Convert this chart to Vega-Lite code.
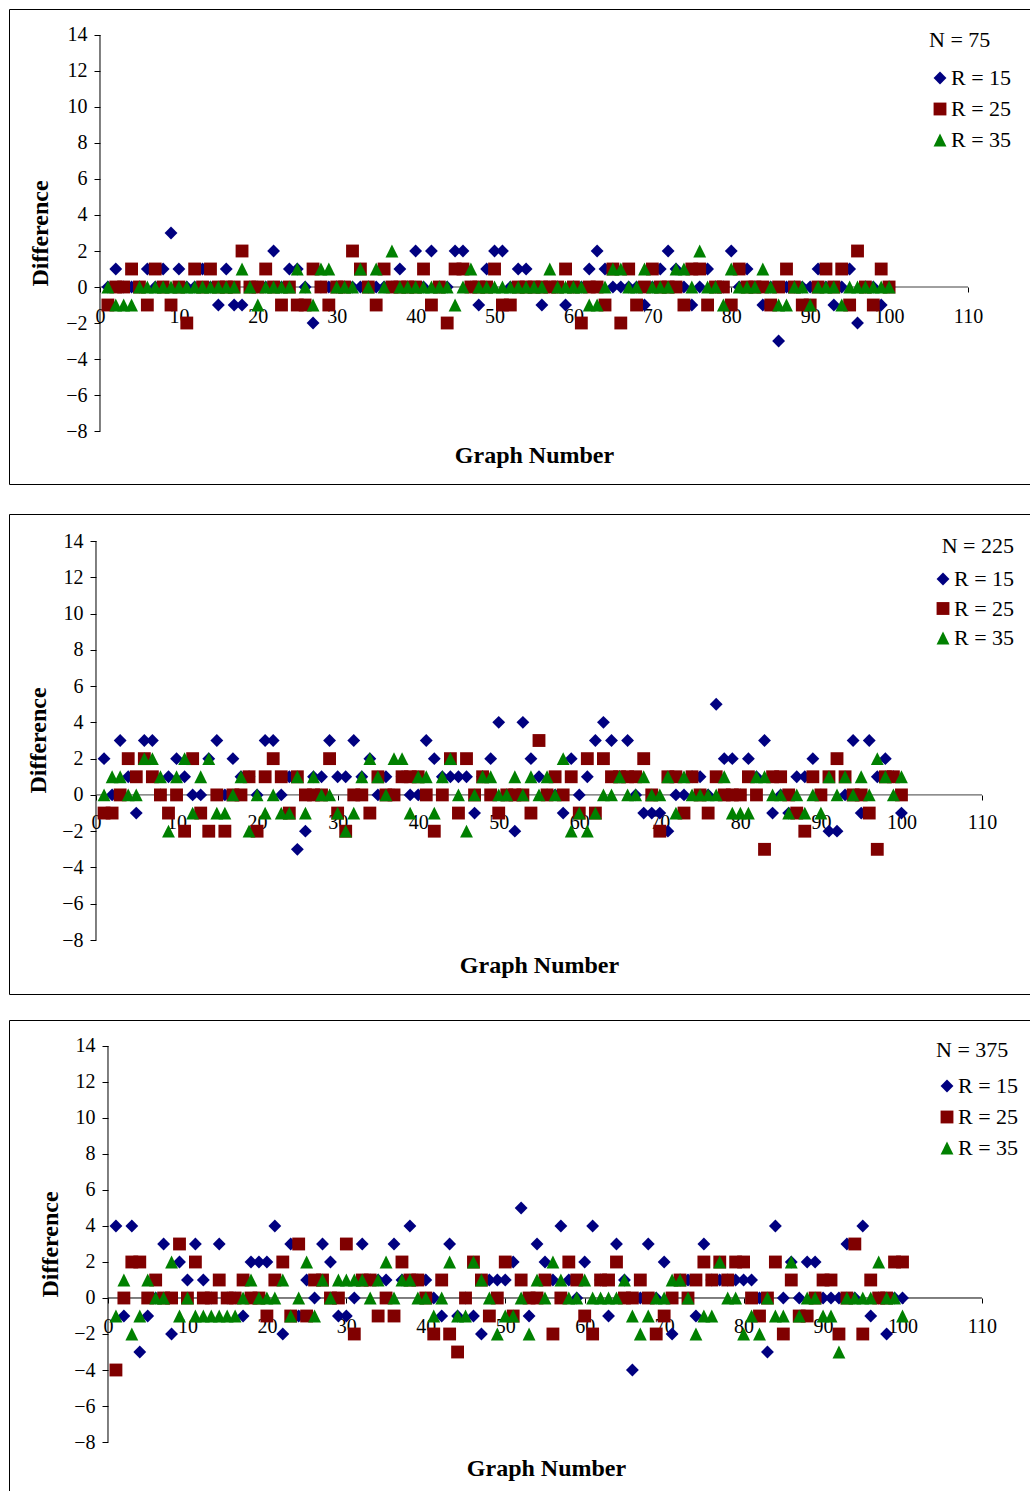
{
"$schema": "https://vega.github.io/schema/vega-lite/v6.json",
"padding": {"left": 8, "top": 8, "right": 0, "bottom": 0},
"background": "white",
"config": {
  "view": {"stroke": "black", "strokeWidth": 1},
  "font": "Liberation Serif",
  "axis": {"labelFont": "Liberation Serif", "labelFontSize": 20, "labelColor": "black", "titleFont": "Liberation Serif", "titleFontSize": 24, "titleFontWeight": "bold", "titleColor": "black", "grid": false, "domain": false, "tickColor": "black", "labelFlush": false, "labelOverlap": false},
  "legend": {"titleFont": "Liberation Serif", "titleFontSize": 22, "titleFontWeight": "normal", "titleColor": "black", "labelFont": "Liberation Serif", "labelFontSize": 22, "labelColor": "black", "symbolSize": 165, "symbolStrokeWidth": 0, "rowPadding": 9, "titlePadding": 15, "labelOffset": 0, "padding": 0}
},
"datasets": {
"p75": [
{"r":15,"g":1,"d":0},{"r":15,"g":2,"d":1},{"r":15,"g":3,"d":0},{"r":15,"g":4,"d":0},{"r":15,"g":5,"d":0},{"r":15,"g":6,"d":1},{"r":15,"g":7,"d":0},{"r":15,"g":8,"d":1},{"r":15,"g":9,"d":3},{"r":15,"g":10,"d":1},
{"r":15,"g":11,"d":0},{"r":15,"g":12,"d":0},{"r":15,"g":13,"d":1},{"r":15,"g":14,"d":0},{"r":15,"g":15,"d":-1},{"r":15,"g":16,"d":1},{"r":15,"g":17,"d":-1},{"r":15,"g":18,"d":-1},{"r":15,"g":19,"d":0},{"r":15,"g":20,"d":0},
{"r":15,"g":21,"d":0},{"r":15,"g":22,"d":2},{"r":15,"g":23,"d":0},{"r":15,"g":24,"d":1},{"r":15,"g":25,"d":1},{"r":15,"g":26,"d":0},{"r":15,"g":27,"d":-2},{"r":15,"g":28,"d":0},{"r":15,"g":29,"d":0},{"r":15,"g":30,"d":0},
{"r":15,"g":31,"d":0},{"r":15,"g":32,"d":0},{"r":15,"g":33,"d":0},{"r":15,"g":34,"d":0},{"r":15,"g":35,"d":0},{"r":15,"g":36,"d":0},{"r":15,"g":37,"d":0},{"r":15,"g":38,"d":1},{"r":15,"g":39,"d":0},{"r":15,"g":40,"d":2},
{"r":15,"g":41,"d":0},{"r":15,"g":42,"d":2},{"r":15,"g":43,"d":0},{"r":15,"g":44,"d":0},{"r":15,"g":45,"d":2},{"r":15,"g":46,"d":2},{"r":15,"g":47,"d":0},{"r":15,"g":48,"d":-1},{"r":15,"g":49,"d":1},{"r":15,"g":50,"d":2},
{"r":15,"g":51,"d":2},{"r":15,"g":52,"d":0},{"r":15,"g":53,"d":1},{"r":15,"g":54,"d":1},{"r":15,"g":55,"d":0},{"r":15,"g":56,"d":-1},{"r":15,"g":57,"d":0},{"r":15,"g":58,"d":0},{"r":15,"g":59,"d":-1},{"r":15,"g":60,"d":0},
{"r":15,"g":61,"d":0},{"r":15,"g":62,"d":1},{"r":15,"g":63,"d":2},{"r":15,"g":64,"d":1},{"r":15,"g":65,"d":0},{"r":15,"g":66,"d":0},{"r":15,"g":67,"d":0},{"r":15,"g":68,"d":0},{"r":15,"g":69,"d":-1},{"r":15,"g":70,"d":0},
{"r":15,"g":71,"d":1},{"r":15,"g":72,"d":2},{"r":15,"g":73,"d":1},{"r":15,"g":74,"d":0},{"r":15,"g":75,"d":-1},{"r":15,"g":76,"d":0},{"r":15,"g":77,"d":1},{"r":15,"g":78,"d":0},{"r":15,"g":79,"d":0},{"r":15,"g":80,"d":2},
{"r":15,"g":81,"d":0},{"r":15,"g":82,"d":1},{"r":15,"g":83,"d":0},{"r":15,"g":84,"d":-1},{"r":15,"g":85,"d":0},{"r":15,"g":86,"d":-3},{"r":15,"g":87,"d":0},{"r":15,"g":88,"d":0},{"r":15,"g":89,"d":0},{"r":15,"g":90,"d":0},
{"r":15,"g":91,"d":1},{"r":15,"g":92,"d":0},{"r":15,"g":93,"d":-1},{"r":15,"g":94,"d":0},{"r":15,"g":95,"d":1},{"r":15,"g":96,"d":-2},{"r":15,"g":97,"d":0},{"r":15,"g":98,"d":0},{"r":15,"g":99,"d":-1},{"r":15,"g":100,"d":0},
{"r":25,"g":1,"d":-1},{"r":25,"g":2,"d":0},{"r":25,"g":3,"d":0},{"r":25,"g":4,"d":1},{"r":25,"g":5,"d":0},{"r":25,"g":6,"d":-1},{"r":25,"g":7,"d":1},{"r":25,"g":8,"d":0},{"r":25,"g":9,"d":-1},{"r":25,"g":10,"d":0},
{"r":25,"g":11,"d":-2},{"r":25,"g":12,"d":1},{"r":25,"g":13,"d":0},{"r":25,"g":14,"d":1},{"r":25,"g":15,"d":0},{"r":25,"g":16,"d":0},{"r":25,"g":17,"d":0},{"r":25,"g":18,"d":2},{"r":25,"g":19,"d":0},{"r":25,"g":20,"d":0},
{"r":25,"g":21,"d":1},{"r":25,"g":22,"d":0},{"r":25,"g":23,"d":-1},{"r":25,"g":24,"d":0},{"r":25,"g":25,"d":-1},{"r":25,"g":26,"d":-1},{"r":25,"g":27,"d":1},{"r":25,"g":28,"d":0},{"r":25,"g":29,"d":-1},{"r":25,"g":30,"d":0},
{"r":25,"g":31,"d":0},{"r":25,"g":32,"d":2},{"r":25,"g":33,"d":1},{"r":25,"g":34,"d":0},{"r":25,"g":35,"d":-1},{"r":25,"g":36,"d":1},{"r":25,"g":37,"d":0},{"r":25,"g":38,"d":0},{"r":25,"g":39,"d":0},{"r":25,"g":40,"d":0},
{"r":25,"g":41,"d":1},{"r":25,"g":42,"d":-1},{"r":25,"g":43,"d":0},{"r":25,"g":44,"d":-2},{"r":25,"g":45,"d":1},{"r":25,"g":46,"d":1},{"r":25,"g":47,"d":0},{"r":25,"g":48,"d":0},{"r":25,"g":49,"d":0},{"r":25,"g":50,"d":1},
{"r":25,"g":51,"d":-1},{"r":25,"g":52,"d":-1},{"r":25,"g":53,"d":0},{"r":25,"g":54,"d":0},{"r":25,"g":55,"d":0},{"r":25,"g":56,"d":0},{"r":25,"g":57,"d":0},{"r":25,"g":58,"d":0},{"r":25,"g":59,"d":1},{"r":25,"g":60,"d":0},
{"r":25,"g":61,"d":-2},{"r":25,"g":62,"d":0},{"r":25,"g":63,"d":0},{"r":25,"g":64,"d":-1},{"r":25,"g":65,"d":1},{"r":25,"g":66,"d":-2},{"r":25,"g":67,"d":1},{"r":25,"g":68,"d":-1},{"r":25,"g":69,"d":0},{"r":25,"g":70,"d":1},
{"r":25,"g":71,"d":0},{"r":25,"g":72,"d":0},{"r":25,"g":73,"d":0},{"r":25,"g":74,"d":-1},{"r":25,"g":75,"d":1},{"r":25,"g":76,"d":1},{"r":25,"g":77,"d":-1},{"r":25,"g":78,"d":0},{"r":25,"g":79,"d":0},{"r":25,"g":80,"d":-1},
{"r":25,"g":81,"d":1},{"r":25,"g":82,"d":0},{"r":25,"g":83,"d":0},{"r":25,"g":84,"d":0},{"r":25,"g":85,"d":-1},{"r":25,"g":86,"d":0},{"r":25,"g":87,"d":1},{"r":25,"g":88,"d":0},{"r":25,"g":89,"d":-1},{"r":25,"g":90,"d":-1},
{"r":25,"g":91,"d":0},{"r":25,"g":92,"d":1},{"r":25,"g":93,"d":0},{"r":25,"g":94,"d":1},{"r":25,"g":95,"d":-1},{"r":25,"g":96,"d":2},{"r":25,"g":97,"d":0},{"r":25,"g":98,"d":-1},{"r":25,"g":99,"d":1},{"r":25,"g":100,"d":0},
{"r":35,"g":1,"d":0},{"r":35,"g":2,"d":-1},{"r":35,"g":3,"d":-1},{"r":35,"g":4,"d":-1},{"r":35,"g":5,"d":0},{"r":35,"g":6,"d":0},{"r":35,"g":7,"d":0},{"r":35,"g":8,"d":0},{"r":35,"g":9,"d":0},{"r":35,"g":10,"d":0},
{"r":35,"g":11,"d":0},{"r":35,"g":12,"d":0},{"r":35,"g":13,"d":0},{"r":35,"g":14,"d":0},{"r":35,"g":15,"d":0},{"r":35,"g":16,"d":0},{"r":35,"g":17,"d":0},{"r":35,"g":18,"d":1},{"r":35,"g":19,"d":0},{"r":35,"g":20,"d":-1},
{"r":35,"g":21,"d":0},{"r":35,"g":22,"d":0},{"r":35,"g":23,"d":0},{"r":35,"g":24,"d":0},{"r":35,"g":25,"d":1},{"r":35,"g":26,"d":0},{"r":35,"g":27,"d":-1},{"r":35,"g":28,"d":1},{"r":35,"g":29,"d":1},{"r":35,"g":30,"d":0},
{"r":35,"g":31,"d":0},{"r":35,"g":32,"d":0},{"r":35,"g":33,"d":1},{"r":35,"g":34,"d":0},{"r":35,"g":35,"d":1},{"r":35,"g":36,"d":0},{"r":35,"g":37,"d":2},{"r":35,"g":38,"d":0},{"r":35,"g":39,"d":0},{"r":35,"g":40,"d":0},
{"r":35,"g":41,"d":0},{"r":35,"g":42,"d":0},{"r":35,"g":43,"d":0},{"r":35,"g":44,"d":0},{"r":35,"g":45,"d":-1},{"r":35,"g":46,"d":0},{"r":35,"g":47,"d":1},{"r":35,"g":48,"d":0},{"r":35,"g":49,"d":0},{"r":35,"g":50,"d":0},
{"r":35,"g":51,"d":0},{"r":35,"g":52,"d":0},{"r":35,"g":53,"d":0},{"r":35,"g":54,"d":0},{"r":35,"g":55,"d":0},{"r":35,"g":56,"d":0},{"r":35,"g":57,"d":1},{"r":35,"g":58,"d":0},{"r":35,"g":59,"d":0},{"r":35,"g":60,"d":0},
{"r":35,"g":61,"d":0},{"r":35,"g":62,"d":-1},{"r":35,"g":63,"d":-1},{"r":35,"g":64,"d":0},{"r":35,"g":65,"d":1},{"r":35,"g":66,"d":1},{"r":35,"g":67,"d":0},{"r":35,"g":68,"d":0},{"r":35,"g":69,"d":1},{"r":35,"g":70,"d":0},
{"r":35,"g":71,"d":0},{"r":35,"g":72,"d":0},{"r":35,"g":73,"d":1},{"r":35,"g":74,"d":1},{"r":35,"g":75,"d":0},{"r":35,"g":76,"d":2},{"r":35,"g":77,"d":0},{"r":35,"g":78,"d":0},{"r":35,"g":79,"d":-1},{"r":35,"g":80,"d":1},
{"r":35,"g":81,"d":0},{"r":35,"g":82,"d":0},{"r":35,"g":83,"d":0},{"r":35,"g":84,"d":1},{"r":35,"g":85,"d":0},{"r":35,"g":86,"d":-1},{"r":35,"g":87,"d":-1},{"r":35,"g":88,"d":0},{"r":35,"g":89,"d":0},{"r":35,"g":90,"d":-1},
{"r":35,"g":91,"d":0},{"r":35,"g":92,"d":0},{"r":35,"g":93,"d":0},{"r":35,"g":94,"d":-1},{"r":35,"g":95,"d":0},{"r":35,"g":96,"d":0},{"r":35,"g":97,"d":0},{"r":35,"g":98,"d":0},{"r":35,"g":99,"d":0},{"r":35,"g":100,"d":0}
],
"p225": [
{"r":15,"g":1,"d":2},{"r":15,"g":2,"d":0},{"r":15,"g":3,"d":3},{"r":15,"g":4,"d":1},{"r":15,"g":5,"d":-1},{"r":15,"g":6,"d":3},{"r":15,"g":7,"d":3},{"r":15,"g":8,"d":0},{"r":15,"g":9,"d":1},{"r":15,"g":10,"d":2},
{"r":15,"g":11,"d":1},{"r":15,"g":12,"d":0},{"r":15,"g":13,"d":0},{"r":15,"g":14,"d":2},{"r":15,"g":15,"d":3},{"r":15,"g":16,"d":0},{"r":15,"g":17,"d":2},{"r":15,"g":18,"d":1},{"r":15,"g":19,"d":1},{"r":15,"g":20,"d":0},
{"r":15,"g":21,"d":3},{"r":15,"g":22,"d":3},{"r":15,"g":23,"d":0},{"r":15,"g":24,"d":1},{"r":15,"g":25,"d":-3},{"r":15,"g":26,"d":-2},{"r":15,"g":27,"d":1},{"r":15,"g":28,"d":1},{"r":15,"g":29,"d":3},{"r":15,"g":30,"d":1},
{"r":15,"g":31,"d":1},{"r":15,"g":32,"d":3},{"r":15,"g":33,"d":1},{"r":15,"g":34,"d":2},{"r":15,"g":35,"d":0},{"r":15,"g":36,"d":1},{"r":15,"g":37,"d":0},{"r":15,"g":38,"d":1},{"r":15,"g":39,"d":0},{"r":15,"g":40,"d":0},
{"r":15,"g":41,"d":3},{"r":15,"g":42,"d":2},{"r":15,"g":43,"d":1},{"r":15,"g":44,"d":1},{"r":15,"g":45,"d":1},{"r":15,"g":46,"d":1},{"r":15,"g":47,"d":-1},{"r":15,"g":48,"d":1},{"r":15,"g":49,"d":2},{"r":15,"g":50,"d":4},
{"r":15,"g":51,"d":0},{"r":15,"g":52,"d":-2},{"r":15,"g":53,"d":4},{"r":15,"g":54,"d":2},{"r":15,"g":55,"d":1},{"r":15,"g":56,"d":0},{"r":15,"g":57,"d":0},{"r":15,"g":58,"d":-1},{"r":15,"g":59,"d":2},{"r":15,"g":60,"d":0},
{"r":15,"g":61,"d":1},{"r":15,"g":62,"d":3},{"r":15,"g":63,"d":4},{"r":15,"g":64,"d":3},{"r":15,"g":65,"d":1},{"r":15,"g":66,"d":3},{"r":15,"g":67,"d":0},{"r":15,"g":68,"d":-1},{"r":15,"g":69,"d":-1},{"r":15,"g":70,"d":-1},
{"r":15,"g":71,"d":-2},{"r":15,"g":72,"d":0},{"r":15,"g":73,"d":0},{"r":15,"g":74,"d":1},{"r":15,"g":75,"d":1},{"r":15,"g":76,"d":0},{"r":15,"g":77,"d":5},{"r":15,"g":78,"d":2},{"r":15,"g":79,"d":2},{"r":15,"g":80,"d":0},
{"r":15,"g":81,"d":2},{"r":15,"g":82,"d":1},{"r":15,"g":83,"d":3},{"r":15,"g":84,"d":-1},{"r":15,"g":85,"d":0},{"r":15,"g":86,"d":-1},{"r":15,"g":87,"d":1},{"r":15,"g":88,"d":1},{"r":15,"g":89,"d":2},{"r":15,"g":90,"d":0},
{"r":15,"g":91,"d":-2},{"r":15,"g":92,"d":-2},{"r":15,"g":93,"d":0},{"r":15,"g":94,"d":3},{"r":15,"g":95,"d":-1},{"r":15,"g":96,"d":3},{"r":15,"g":97,"d":1},{"r":15,"g":98,"d":2},{"r":15,"g":99,"d":1},{"r":15,"g":100,"d":-1},
{"r":25,"g":1,"d":-1},{"r":25,"g":2,"d":-1},{"r":25,"g":3,"d":0},{"r":25,"g":4,"d":2},{"r":25,"g":5,"d":1},{"r":25,"g":6,"d":2},{"r":25,"g":7,"d":1},{"r":25,"g":8,"d":0},{"r":25,"g":9,"d":-1},{"r":25,"g":10,"d":0},
{"r":25,"g":11,"d":-2},{"r":25,"g":12,"d":2},{"r":25,"g":13,"d":-1},{"r":25,"g":14,"d":-2},{"r":25,"g":15,"d":0},{"r":25,"g":16,"d":-2},{"r":25,"g":17,"d":0},{"r":25,"g":18,"d":0},{"r":25,"g":19,"d":1},{"r":25,"g":20,"d":-2},
{"r":25,"g":21,"d":1},{"r":25,"g":22,"d":2},{"r":25,"g":23,"d":1},{"r":25,"g":24,"d":-1},{"r":25,"g":25,"d":1},{"r":25,"g":26,"d":0},{"r":25,"g":27,"d":0},{"r":25,"g":28,"d":0},{"r":25,"g":29,"d":2},{"r":25,"g":30,"d":-1},
{"r":25,"g":31,"d":-2},{"r":25,"g":32,"d":0},{"r":25,"g":33,"d":0},{"r":25,"g":34,"d":-1},{"r":25,"g":35,"d":1},{"r":25,"g":36,"d":0},{"r":25,"g":37,"d":0},{"r":25,"g":38,"d":1},{"r":25,"g":39,"d":1},{"r":25,"g":40,"d":1},
{"r":25,"g":41,"d":0},{"r":25,"g":42,"d":-2},{"r":25,"g":43,"d":0},{"r":25,"g":44,"d":2},{"r":25,"g":45,"d":-1},{"r":25,"g":46,"d":2},{"r":25,"g":47,"d":0},{"r":25,"g":48,"d":1},{"r":25,"g":49,"d":0},{"r":25,"g":50,"d":-1},
{"r":25,"g":51,"d":0},{"r":25,"g":52,"d":0},{"r":25,"g":53,"d":0},{"r":25,"g":54,"d":-1},{"r":25,"g":55,"d":3},{"r":25,"g":56,"d":0},{"r":25,"g":57,"d":1},{"r":25,"g":58,"d":0},{"r":25,"g":59,"d":1},{"r":25,"g":60,"d":-1},
{"r":25,"g":61,"d":2},{"r":25,"g":62,"d":-1},{"r":25,"g":63,"d":2},{"r":25,"g":64,"d":1},{"r":25,"g":65,"d":1},{"r":25,"g":66,"d":1},{"r":25,"g":67,"d":1},{"r":25,"g":68,"d":2},{"r":25,"g":69,"d":0},{"r":25,"g":70,"d":-2},
{"r":25,"g":71,"d":1},{"r":25,"g":72,"d":1},{"r":25,"g":73,"d":-1},{"r":25,"g":74,"d":1},{"r":25,"g":75,"d":0},{"r":25,"g":76,"d":-1},{"r":25,"g":77,"d":1},{"r":25,"g":78,"d":0},{"r":25,"g":79,"d":0},{"r":25,"g":80,"d":0},
{"r":25,"g":81,"d":1},{"r":25,"g":82,"d":0},{"r":25,"g":83,"d":-3},{"r":25,"g":84,"d":1},{"r":25,"g":85,"d":1},{"r":25,"g":86,"d":0},{"r":25,"g":87,"d":-1},{"r":25,"g":88,"d":-2},{"r":25,"g":89,"d":1},{"r":25,"g":90,"d":0},
{"r":25,"g":91,"d":1},{"r":25,"g":92,"d":2},{"r":25,"g":93,"d":1},{"r":25,"g":94,"d":0},{"r":25,"g":95,"d":0},{"r":25,"g":96,"d":-1},{"r":25,"g":97,"d":-3},{"r":25,"g":98,"d":1},{"r":25,"g":99,"d":1},{"r":25,"g":100,"d":0},
{"r":35,"g":1,"d":0},{"r":35,"g":2,"d":1},{"r":35,"g":3,"d":1},{"r":35,"g":4,"d":0},{"r":35,"g":5,"d":0},{"r":35,"g":6,"d":2},{"r":35,"g":7,"d":2},{"r":35,"g":8,"d":1},{"r":35,"g":9,"d":-2},{"r":35,"g":10,"d":1},
{"r":35,"g":11,"d":2},{"r":35,"g":12,"d":-1},{"r":35,"g":13,"d":1},{"r":35,"g":14,"d":2},{"r":35,"g":15,"d":-1},{"r":35,"g":16,"d":-1},{"r":35,"g":17,"d":0},{"r":35,"g":18,"d":1},{"r":35,"g":19,"d":-2},{"r":35,"g":20,"d":0},
{"r":35,"g":21,"d":-1},{"r":35,"g":22,"d":0},{"r":35,"g":23,"d":-1},{"r":35,"g":24,"d":-1},{"r":35,"g":25,"d":1},{"r":35,"g":26,"d":-1},{"r":35,"g":27,"d":1},{"r":35,"g":28,"d":0},{"r":35,"g":29,"d":0},{"r":35,"g":30,"d":-1},
{"r":35,"g":31,"d":-2},{"r":35,"g":32,"d":-1},{"r":35,"g":33,"d":1},{"r":35,"g":34,"d":2},{"r":35,"g":35,"d":1},{"r":35,"g":36,"d":0},{"r":35,"g":37,"d":2},{"r":35,"g":38,"d":2},{"r":35,"g":39,"d":-1},{"r":35,"g":40,"d":1},
{"r":35,"g":41,"d":1},{"r":35,"g":42,"d":-1},{"r":35,"g":43,"d":1},{"r":35,"g":44,"d":2},{"r":35,"g":45,"d":0},{"r":35,"g":46,"d":-2},{"r":35,"g":47,"d":0},{"r":35,"g":48,"d":1},{"r":35,"g":49,"d":1},{"r":35,"g":50,"d":0},
{"r":35,"g":51,"d":0},{"r":35,"g":52,"d":1},{"r":35,"g":53,"d":0},{"r":35,"g":54,"d":1},{"r":35,"g":55,"d":0},{"r":35,"g":56,"d":1},{"r":35,"g":57,"d":0},{"r":35,"g":58,"d":2},{"r":35,"g":59,"d":-2},{"r":35,"g":60,"d":-1},
{"r":35,"g":61,"d":-2},{"r":35,"g":62,"d":-1},{"r":35,"g":63,"d":0},{"r":35,"g":64,"d":0},{"r":35,"g":65,"d":1},{"r":35,"g":66,"d":0},{"r":35,"g":67,"d":0},{"r":35,"g":68,"d":1},{"r":35,"g":69,"d":0},{"r":35,"g":70,"d":0},
{"r":35,"g":71,"d":1},{"r":35,"g":72,"d":-1},{"r":35,"g":73,"d":1},{"r":35,"g":74,"d":0},{"r":35,"g":75,"d":0},{"r":35,"g":76,"d":0},{"r":35,"g":77,"d":0},{"r":35,"g":78,"d":1},{"r":35,"g":79,"d":-1},{"r":35,"g":80,"d":-1},
{"r":35,"g":81,"d":-1},{"r":35,"g":82,"d":1},{"r":35,"g":83,"d":1},{"r":35,"g":84,"d":0},{"r":35,"g":85,"d":0},{"r":35,"g":86,"d":-1},{"r":35,"g":87,"d":0},{"r":35,"g":88,"d":-1},{"r":35,"g":89,"d":0},{"r":35,"g":90,"d":-1},
{"r":35,"g":91,"d":1},{"r":35,"g":92,"d":0},{"r":35,"g":93,"d":1},{"r":35,"g":94,"d":0},{"r":35,"g":95,"d":1},{"r":35,"g":96,"d":0},{"r":35,"g":97,"d":2},{"r":35,"g":98,"d":1},{"r":35,"g":99,"d":0},{"r":35,"g":100,"d":1}
],
"p375": [
{"r":15,"g":1,"d":4},{"r":15,"g":2,"d":-1},{"r":15,"g":3,"d":4},{"r":15,"g":4,"d":-3},{"r":15,"g":5,"d":-1},{"r":15,"g":6,"d":0},{"r":15,"g":7,"d":3},{"r":15,"g":8,"d":-2},{"r":15,"g":9,"d":2},{"r":15,"g":10,"d":1},
{"r":15,"g":11,"d":3},{"r":15,"g":12,"d":1},{"r":15,"g":13,"d":0},{"r":15,"g":14,"d":3},{"r":15,"g":15,"d":0},{"r":15,"g":16,"d":0},{"r":15,"g":17,"d":-1},{"r":15,"g":18,"d":2},{"r":15,"g":19,"d":2},{"r":15,"g":20,"d":2},
{"r":15,"g":21,"d":4},{"r":15,"g":22,"d":-2},{"r":15,"g":23,"d":3},{"r":15,"g":24,"d":-1},{"r":15,"g":25,"d":1},{"r":15,"g":26,"d":0},{"r":15,"g":27,"d":3},{"r":15,"g":28,"d":2},{"r":15,"g":29,"d":-1},{"r":15,"g":30,"d":-1},
{"r":15,"g":31,"d":0},{"r":15,"g":32,"d":3},{"r":15,"g":33,"d":1},{"r":15,"g":34,"d":1},{"r":15,"g":35,"d":1},{"r":15,"g":36,"d":3},{"r":15,"g":37,"d":1},{"r":15,"g":38,"d":4},{"r":15,"g":39,"d":1},{"r":15,"g":40,"d":1},
{"r":15,"g":41,"d":0},{"r":15,"g":42,"d":-1},{"r":15,"g":43,"d":3},{"r":15,"g":44,"d":-1},{"r":15,"g":45,"d":0},{"r":15,"g":46,"d":-1},{"r":15,"g":47,"d":-2},{"r":15,"g":48,"d":1},{"r":15,"g":49,"d":1},{"r":15,"g":50,"d":1},
{"r":15,"g":51,"d":2},{"r":15,"g":52,"d":5},{"r":15,"g":53,"d":-1},{"r":15,"g":54,"d":3},{"r":15,"g":55,"d":2},{"r":15,"g":56,"d":1},{"r":15,"g":57,"d":4},{"r":15,"g":58,"d":1},{"r":15,"g":59,"d":0},{"r":15,"g":60,"d":2},
{"r":15,"g":61,"d":4},{"r":15,"g":62,"d":1},{"r":15,"g":63,"d":-1},{"r":15,"g":64,"d":3},{"r":15,"g":65,"d":1},{"r":15,"g":66,"d":-4},{"r":15,"g":67,"d":0},{"r":15,"g":68,"d":3},{"r":15,"g":69,"d":0},{"r":15,"g":70,"d":2},
{"r":15,"g":71,"d":-2},{"r":15,"g":72,"d":1},{"r":15,"g":73,"d":1},{"r":15,"g":74,"d":-1},{"r":15,"g":75,"d":3},{"r":15,"g":76,"d":1},{"r":15,"g":77,"d":1},{"r":15,"g":78,"d":1},{"r":15,"g":79,"d":1},{"r":15,"g":80,"d":1},
{"r":15,"g":81,"d":1},{"r":15,"g":82,"d":0},{"r":15,"g":83,"d":-3},{"r":15,"g":84,"d":4},{"r":15,"g":85,"d":0},{"r":15,"g":86,"d":2},{"r":15,"g":87,"d":0},{"r":15,"g":88,"d":2},{"r":15,"g":89,"d":2},{"r":15,"g":90,"d":0},
{"r":15,"g":91,"d":0},{"r":15,"g":92,"d":0},{"r":15,"g":93,"d":3},{"r":15,"g":94,"d":0},{"r":15,"g":95,"d":4},{"r":15,"g":96,"d":-1},{"r":15,"g":97,"d":0},{"r":15,"g":98,"d":-2},{"r":15,"g":99,"d":0},{"r":15,"g":100,"d":0},
{"r":25,"g":1,"d":-4},{"r":25,"g":2,"d":0},{"r":25,"g":3,"d":2},{"r":25,"g":4,"d":2},{"r":25,"g":5,"d":0},{"r":25,"g":6,"d":1},{"r":25,"g":7,"d":0},{"r":25,"g":8,"d":0},{"r":25,"g":9,"d":3},{"r":25,"g":10,"d":0},
{"r":25,"g":11,"d":2},{"r":25,"g":12,"d":0},{"r":25,"g":13,"d":0},{"r":25,"g":14,"d":1},{"r":25,"g":15,"d":0},{"r":25,"g":16,"d":0},{"r":25,"g":17,"d":1},{"r":25,"g":18,"d":0},{"r":25,"g":19,"d":0},{"r":25,"g":20,"d":-1},
{"r":25,"g":21,"d":1},{"r":25,"g":22,"d":2},{"r":25,"g":23,"d":-1},{"r":25,"g":24,"d":3},{"r":25,"g":25,"d":-1},{"r":25,"g":26,"d":1},{"r":25,"g":27,"d":1},{"r":25,"g":28,"d":0},{"r":25,"g":29,"d":0},{"r":25,"g":30,"d":3},
{"r":25,"g":31,"d":-2},{"r":25,"g":32,"d":1},{"r":25,"g":33,"d":1},{"r":25,"g":34,"d":-1},{"r":25,"g":35,"d":0},{"r":25,"g":36,"d":-1},{"r":25,"g":37,"d":2},{"r":25,"g":38,"d":1},{"r":25,"g":39,"d":1},{"r":25,"g":40,"d":0},
{"r":25,"g":41,"d":-2},{"r":25,"g":42,"d":1},{"r":25,"g":43,"d":-2},{"r":25,"g":44,"d":-3},{"r":25,"g":45,"d":0},{"r":25,"g":46,"d":2},{"r":25,"g":47,"d":1},{"r":25,"g":48,"d":-1},{"r":25,"g":49,"d":0},{"r":25,"g":50,"d":2},
{"r":25,"g":51,"d":-1},{"r":25,"g":52,"d":1},{"r":25,"g":53,"d":0},{"r":25,"g":54,"d":0},{"r":25,"g":55,"d":1},{"r":25,"g":56,"d":-2},{"r":25,"g":57,"d":0},{"r":25,"g":58,"d":2},{"r":25,"g":59,"d":1},{"r":25,"g":60,"d":-1},
{"r":25,"g":61,"d":-2},{"r":25,"g":62,"d":1},{"r":25,"g":63,"d":1},{"r":25,"g":64,"d":2},{"r":25,"g":65,"d":0},{"r":25,"g":66,"d":0},{"r":25,"g":67,"d":1},{"r":25,"g":68,"d":0},{"r":25,"g":69,"d":-2},{"r":25,"g":70,"d":-1},
{"r":25,"g":71,"d":0},{"r":25,"g":72,"d":1},{"r":25,"g":73,"d":0},{"r":25,"g":74,"d":1},{"r":25,"g":75,"d":2},{"r":25,"g":76,"d":1},{"r":25,"g":77,"d":2},{"r":25,"g":78,"d":1},{"r":25,"g":79,"d":2},{"r":25,"g":80,"d":2},
{"r":25,"g":81,"d":0},{"r":25,"g":82,"d":-1},{"r":25,"g":83,"d":0},{"r":25,"g":84,"d":2},{"r":25,"g":85,"d":-2},{"r":25,"g":86,"d":1},{"r":25,"g":87,"d":-1},{"r":25,"g":88,"d":-1},{"r":25,"g":89,"d":0},{"r":25,"g":90,"d":1},
{"r":25,"g":91,"d":1},{"r":25,"g":92,"d":-2},{"r":25,"g":93,"d":0},{"r":25,"g":94,"d":3},{"r":25,"g":95,"d":-2},{"r":25,"g":96,"d":1},{"r":25,"g":97,"d":0},{"r":25,"g":98,"d":0},{"r":25,"g":99,"d":2},{"r":25,"g":100,"d":2},
{"r":35,"g":1,"d":-1},{"r":35,"g":2,"d":1},{"r":35,"g":3,"d":-2},{"r":35,"g":4,"d":-1},{"r":35,"g":5,"d":1},{"r":35,"g":6,"d":0},{"r":35,"g":7,"d":0},{"r":35,"g":8,"d":2},{"r":35,"g":9,"d":-1},{"r":35,"g":10,"d":0},
{"r":35,"g":11,"d":-1},{"r":35,"g":12,"d":-1},{"r":35,"g":13,"d":-1},{"r":35,"g":14,"d":-1},{"r":35,"g":15,"d":-1},{"r":35,"g":16,"d":-1},{"r":35,"g":17,"d":0},{"r":35,"g":18,"d":1},{"r":35,"g":19,"d":0},{"r":35,"g":20,"d":0},
{"r":35,"g":21,"d":0},{"r":35,"g":22,"d":1},{"r":35,"g":23,"d":-1},{"r":35,"g":24,"d":0},{"r":35,"g":25,"d":2},{"r":35,"g":26,"d":-1},{"r":35,"g":27,"d":1},{"r":35,"g":28,"d":0},{"r":35,"g":29,"d":1},{"r":35,"g":30,"d":1},
{"r":35,"g":31,"d":1},{"r":35,"g":32,"d":1},{"r":35,"g":33,"d":0},{"r":35,"g":34,"d":1},{"r":35,"g":35,"d":2},{"r":35,"g":36,"d":0},{"r":35,"g":37,"d":1},{"r":35,"g":38,"d":1},{"r":35,"g":39,"d":0},{"r":35,"g":40,"d":0},
{"r":35,"g":41,"d":-1},{"r":35,"g":42,"d":0},{"r":35,"g":43,"d":2},{"r":35,"g":44,"d":-1},{"r":35,"g":45,"d":-1},{"r":35,"g":46,"d":2},{"r":35,"g":47,"d":1},{"r":35,"g":48,"d":0},{"r":35,"g":49,"d":-2},{"r":35,"g":50,"d":-1},
{"r":35,"g":51,"d":-1},{"r":35,"g":52,"d":0},{"r":35,"g":53,"d":-2},{"r":35,"g":54,"d":1},{"r":35,"g":55,"d":0},{"r":35,"g":56,"d":2},{"r":35,"g":57,"d":1},{"r":35,"g":58,"d":0},{"r":35,"g":59,"d":0},{"r":35,"g":60,"d":1},
{"r":35,"g":61,"d":0},{"r":35,"g":62,"d":0},{"r":35,"g":63,"d":0},{"r":35,"g":64,"d":0},{"r":35,"g":65,"d":1},{"r":35,"g":66,"d":-1},{"r":35,"g":67,"d":-2},{"r":35,"g":68,"d":-1},{"r":35,"g":69,"d":0},{"r":35,"g":70,"d":0},
{"r":35,"g":71,"d":1},{"r":35,"g":72,"d":1},{"r":35,"g":73,"d":0},{"r":35,"g":74,"d":-2},{"r":35,"g":75,"d":-1},{"r":35,"g":76,"d":-1},{"r":35,"g":77,"d":2},{"r":35,"g":78,"d":0},{"r":35,"g":79,"d":0},{"r":35,"g":80,"d":-2},
{"r":35,"g":81,"d":-1},{"r":35,"g":82,"d":-2},{"r":35,"g":83,"d":0},{"r":35,"g":84,"d":-1},{"r":35,"g":85,"d":-1},{"r":35,"g":86,"d":2},{"r":35,"g":87,"d":-1},{"r":35,"g":88,"d":0},{"r":35,"g":89,"d":0},{"r":35,"g":90,"d":-1},
{"r":35,"g":91,"d":-1},{"r":35,"g":92,"d":-3},{"r":35,"g":93,"d":0},{"r":35,"g":94,"d":0},{"r":35,"g":95,"d":0},{"r":35,"g":96,"d":0},{"r":35,"g":97,"d":2},{"r":35,"g":98,"d":0},{"r":35,"g":99,"d":0},{"r":35,"g":100,"d":-1}
]
},
"vconcat": [
{"vconcat": [
{
  "width": 1025, "height": 475,
  "layer": [
    {"data": {"values": [{}]}, "mark": {"type": "rule", "color": "black", "strokeWidth": 1},
     "encoding": {"x": {"datum": 0, "type": "quantitative"}, "y": {"datum": -8, "type": "quantitative"}, "y2": {"datum": 14}}},
    {"data": {"values": [{}]}, "mark": {"type": "rule", "color": "#404040", "strokeWidth": 1},
     "encoding": {"y": {"datum": 0, "type": "quantitative"}, "x": {"datum": 0, "type": "quantitative"}, "x2": {"datum": 110}}},
    {"data": {"name": "p75"}, "mark": {"type": "point", "filled": true, "size": 165, "opacity": 1},
     "encoding": {
       "x": {"field": "g", "type": "quantitative", "scale": {"domain": [-11.532, 118.365], "nice": false, "zero": false},
             "axis": {"values": [0,10,20,30,40,50,60,70,80,90,100,110], "offset": -197, "tickSize": 5, "labelPadding": 24, "labelBaseline": "middle", "title": "Graph Number", "titleX": 525, "titleY": 168, "titleBaseline": "middle", "titleAlign": "center"}},
       "y": {"field": "d", "type": "quantitative", "scale": {"domain": [-10.944, 15.444], "nice": false, "zero": false},
             "axis": {"values": [-8,-6,-4,-2,0,2,4,6,8,10,12,14], "offset": -91, "tickSize": 6, "labelPadding": 7, "title": "Difference", "titleX": -60, "titleY": 224, "titleBaseline": "middle", "titleAlign": "center", "titleAngle": -90}},
       "color": {"field": "r", "type": "nominal", "scale": {"domain": [15,25,35], "range": ["#000080","#800000","#008000"]},
                 "legend": {"title": "N = 75", "orient": "none", "legendX": 920, "legendY": 21, "titlePadding": 15, "rowPadding": 9, "labelExpr": "'R = ' + datum.label"}},
       "shape": {"field": "r", "type": "nominal", "scale": {"domain": [15,25,35], "range": ["diamond","square","M0,-1L1,1L-1,1Z"]},
                 "legend": {"title": "N = 75", "orient": "none", "legendX": 920, "legendY": 21, "titlePadding": 15, "rowPadding": 9, "labelExpr": "'R = ' + datum.label"}}
     }}
  ]
},
{
  "width": 1025, "height": 480,
  "layer": [
    {"data": {"values": [{}]}, "mark": {"type": "rule", "color": "black", "strokeWidth": 1},
     "encoding": {"x": {"datum": 0, "type": "quantitative"}, "y": {"datum": -8, "type": "quantitative"}, "y2": {"datum": 14}}},
    {"data": {"values": [{}]}, "mark": {"type": "rule", "color": "#404040", "strokeWidth": 1},
     "encoding": {"y": {"datum": 0, "type": "quantitative"}, "x": {"datum": 0, "type": "quantitative"}, "x2": {"datum": 110}}},
    {"data": {"name": "p225"}, "mark": {"type": "point", "filled": true, "size": 165, "opacity": 1},
     "encoding": {
       "x": {"field": "g", "type": "quantitative", "scale": {"domain": [-10.801, 116.456], "nice": false, "zero": false},
             "axis": {"values": [0,10,20,30,40,50,60,70,80,90,100,110], "offset": -199, "tickSize": 5, "labelPadding": 22, "labelBaseline": "middle", "title": "Graph Number", "titleX": 530, "titleY": 170, "titleBaseline": "middle", "titleAlign": "center"}},
       "y": {"field": "d", "type": "quantitative", "scale": {"domain": [-10.977, 15.489], "nice": false, "zero": false},
             "axis": {"values": [-8,-6,-4,-2,0,2,4,6,8,10,12,14], "offset": -87, "tickSize": 6, "labelPadding": 7, "title": "Difference", "titleX": -58, "titleY": 226, "titleBaseline": "middle", "titleAlign": "center", "titleAngle": -90}},
       "color": {"field": "r", "type": "nominal", "scale": {"domain": [15,25,35], "range": ["#000080","#800000","#008000"]},
                 "legend": {"title": "N = 225", "orient": "none", "legendX": 923, "legendY": 22, "titlePadding": 10, "rowPadding": 7.5, "titleAnchor": "end", "labelExpr": "'R = ' + datum.label"}},
       "shape": {"field": "r", "type": "nominal", "scale": {"domain": [15,25,35], "range": ["diamond","square","M0,-1L1,1L-1,1Z"]},
                 "legend": {"title": "N = 225", "orient": "none", "legendX": 923, "legendY": 22, "titlePadding": 10, "rowPadding": 7.5, "titleAnchor": "end", "labelExpr": "'R = ' + datum.label"}}
     }}
  ]
}
], "spacing": 28,
"resolve": {"scale": {"color": "independent", "shape": "independent"}, "legend": {"color": "independent", "shape": "independent"}}},
{
  "width": 1025, "height": 480,
  "layer": [
    {"data": {"values": [{}]}, "mark": {"type": "rule", "color": "black", "strokeWidth": 1},
     "encoding": {"x": {"datum": 0, "type": "quantitative"}, "y": {"datum": -8, "type": "quantitative"}, "y2": {"datum": 14}}},
    {"data": {"values": [{}]}, "mark": {"type": "rule", "color": "black", "strokeWidth": 1},
     "encoding": {"y": {"datum": 0, "type": "quantitative"}, "x": {"datum": 0, "type": "quantitative"}, "x2": {"datum": 110}}},
    {"data": {"name": "p375"}, "mark": {"type": "point", "filled": true, "size": 165, "opacity": 1},
     "encoding": {
       "x": {"field": "g", "type": "quantitative", "scale": {"domain": [-12.46, 116.55], "nice": false, "zero": false},
             "axis": {"values": [0,10,20,30,40,50,60,70,80,90,100,110], "offset": -202, "tickSize": 5, "labelPadding": 23, "labelBaseline": "middle", "title": "Graph Number", "titleX": 537, "titleY": 170, "titleBaseline": "middle", "titleAlign": "center"}},
       "y": {"field": "d", "type": "quantitative", "scale": {"domain": [-11.222, 15.444], "nice": false, "zero": false},
             "axis": {"values": [-8,-6,-4,-2,0,2,4,6,8,10,12,14], "offset": -99, "tickSize": 6, "labelPadding": 7, "title": "Difference", "titleX": -58, "titleY": 224, "titleBaseline": "middle", "titleAlign": "center", "titleAngle": -90}},
       "color": {"field": "r", "type": "nominal", "scale": {"domain": [15,25,35], "range": ["#000080","#800000","#008000"]},
                 "legend": {"title": "N = 375", "orient": "none", "legendX": 927, "legendY": 20, "titlePadding": 13, "rowPadding": 9, "labelExpr": "'R = ' + datum.label"}},
       "shape": {"field": "r", "type": "nominal", "scale": {"domain": [15,25,35], "range": ["diamond","square","M0,-1L1,1L-1,1Z"]},
                 "legend": {"title": "N = 375", "orient": "none", "legendX": 927, "legendY": 20, "titlePadding": 13, "rowPadding": 9, "labelExpr": "'R = ' + datum.label"}}
     }}
  ]
}
],
"spacing": 24,
"resolve": {"scale": {"color": "independent", "shape": "independent"}, "legend": {"color": "independent", "shape": "independent"}}
}
